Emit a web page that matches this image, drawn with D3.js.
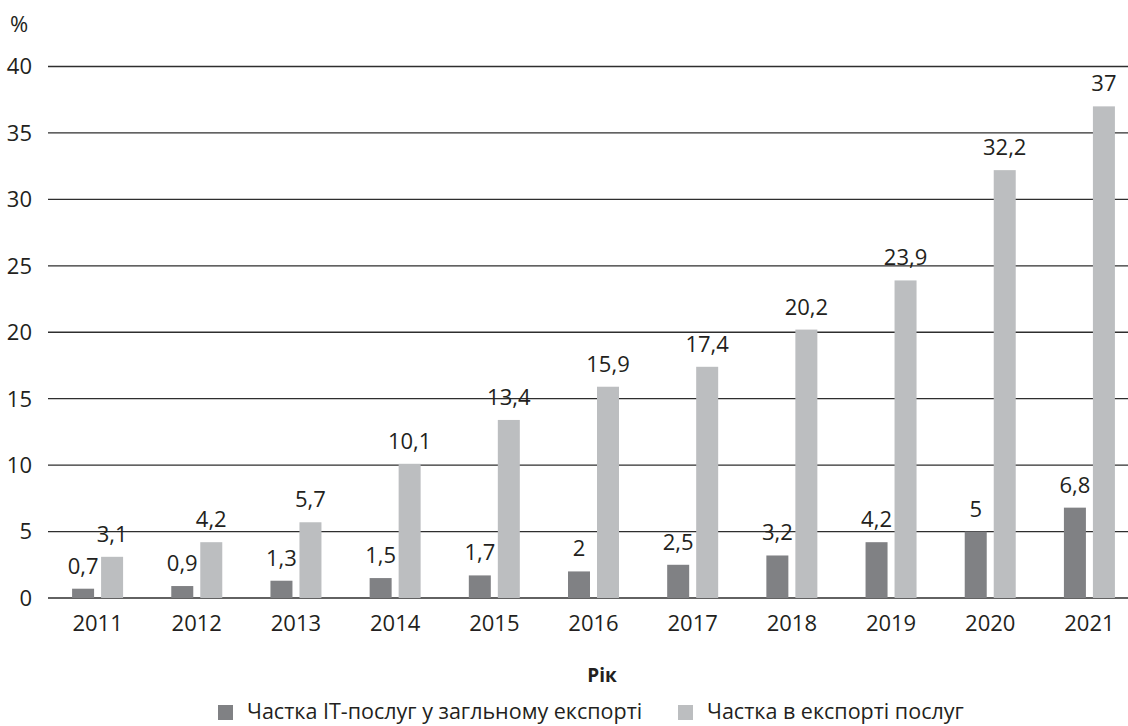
<!DOCTYPE html>
<html>
<head>
<meta charset="utf-8">
<script src="https://cdn.jsdelivr.net/npm/d3@7"></script>
<style>
  body { margin: 0; background: #fff; }
  text { font-family: "Open Sans", sans-serif; fill: #231f20; }
</style>
</head>
<body>
<div id="chart"></div>
<script>
// data
const years = ['2011', '2012', '2013', '2014', '2015', '2016', '2017', '2018', '2019', '2020', '2021'];
const itShare = [0.7, 0.9, 1.3, 1.5, 1.7, 2, 2.5, 3.2, 4.2, 5, 6.8];
const servShare = [3.1, 4.2, 5.7, 10.1, 13.4, 15.9, 17.4, 20.2, 23.9, 32.2, 37];
const yTicks = [0, 5, 10, 15, 20, 25, 30, 35, 40];
const seriesNames = ['Частка IT-послуг у загльному експорті', 'Частка в експорті послуг'];
const colors = ['#808184', '#bcbec0'];

const width = 1128, height = 726;

const svg = d3.select('#chart')
  .append('svg')
  .attr('width', width)
  .attr('height', height);

const x = d3.scaleBand()
  .domain(years)
  .range([48, 1139]);

const y = d3.scaleLinear()
  .domain([0, 40])
  .range([598, 66.5]);

const barW = 22, gap = 7;
const fmt = v => String(v).replace('.', ',');

// gridlines
svg.append('g')
  .selectAll('line')
  .data(yTicks)
  .enter()
  .append('line')
  .attr('x1', 48)
  .attr('x2', width)
  .attr('y1', d => y(d))
  .attr('y2', d => y(d))
  .attr('stroke', '#2e2e2e')
  .attr('stroke-width', 1.3);

// y tick labels
svg.append('g')
  .selectAll('text')
  .data(yTicks)
  .enter()
  .append('text')
  .attr('x', 32)
  .attr('y', d => y(d))
  .attr('dy', '0.36em')
  .attr('text-anchor', 'end')
  .attr('font-size', 22)
  .text(d => d);

svg.append('text')
  .attr('x', 10)
  .attr('y', 32)
  .attr('font-size', 22)
  .text('%');

// bars
const series = [itShare, servShare];
series.forEach((vals, si) => {
  const xOff = si === 0 ? -(barW + gap / 2) : gap / 2;
  const g = svg.append('g');
  g.selectAll('rect')
    .data(vals)
    .enter()
    .append('rect')
    .attr('x', (d, i) => x(years[i]) + x.bandwidth() / 2 + xOff)
    .attr('y', d => y(d))
    .attr('width', barW)
    .attr('height', d => y(0) - y(d))
    .attr('fill', colors[si]);
  g.selectAll('text')
    .data(vals)
    .enter()
    .append('text')
    .attr('x', (d, i) => x(years[i]) + x.bandwidth() / 2 + xOff + barW / 2)
    .attr('y', d => y(d) - 15)
    .attr('text-anchor', 'middle')
    .attr('font-size', 22)
    .text(d => fmt(d));
});

// x labels
svg.append('g')
  .selectAll('text')
  .data(years)
  .enter()
  .append('text')
  .attr('x', d => x(d) + x.bandwidth() / 2)
  .attr('y', 631)
  .attr('text-anchor', 'middle')
  .attr('font-size', 22)
  .text(d => d);

svg.append('text')
  .attr('x', 602)
  .attr('y', 682)
  .attr('text-anchor', 'middle')
  .attr('font-size', 19)
  .attr('font-weight', 'bold')
  .text('Рік');

// legend
const legendX = [218, 678];
seriesNames.forEach((name, i) => {
  svg.append('rect')
    .attr('x', legendX[i])
    .attr('y', 705)
    .attr('width', 15)
    .attr('height', 15)
    .attr('fill', colors[i]);
  svg.append('text')
    .attr('x', legendX[i] + 29)
    .attr('y', 719)
    .attr('font-size', 21.5)
    .text(name);
});
</script>
</body>
</html>
